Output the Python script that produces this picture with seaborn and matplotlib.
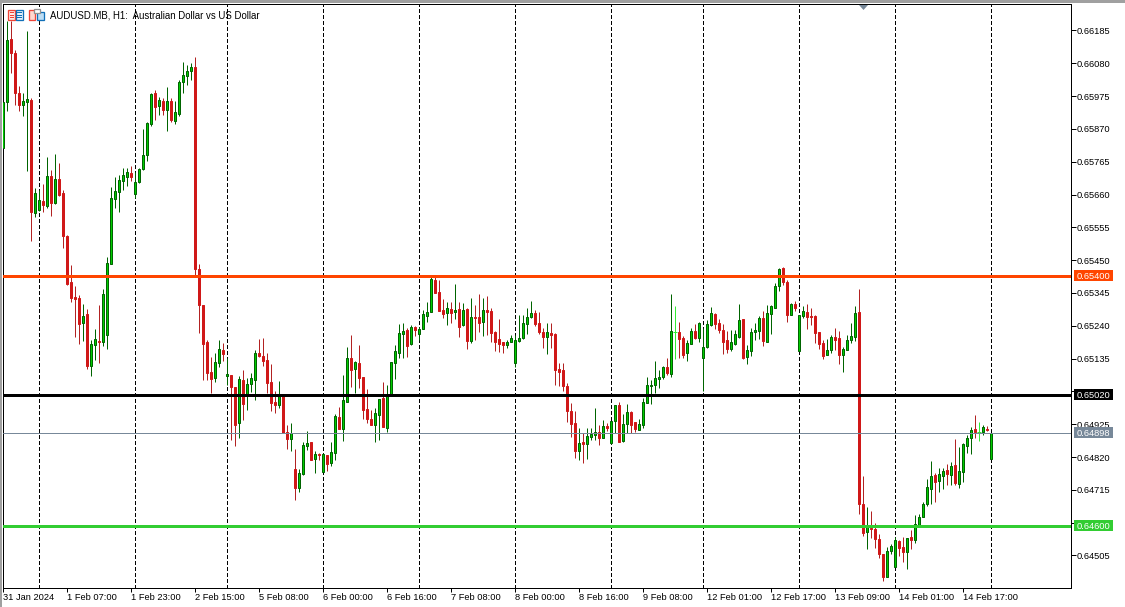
import numpy as np
import pandas as pd
import matplotlib
matplotlib.use("Agg")
import matplotlib.pyplot as plt
from matplotlib.patches import Rectangle, Polygon
from matplotlib.transforms import blended_transform_factory
import seaborn as sns

# Prices are in points (1e-5)
opens = [
65809,65957,66158,66113,65985,65947,65957,65963,65601,65611,
65640,65624,65720,65633,65710,65665,65528,65381,65333,65329,
65249,65278,65112,65179,65192,65189,65211,65438,65646,65669,
65704,65717,65729,65662,65701,65742,65787,65886,65985,65944,
65960,65931,65960,65896,65918,66021,66040,66056,66069,65422,
65307,65189,65093,65073,65121,65163,65080,65083,65045,64929,
65067,65019,65054,65067,65153,65144,65131,65061,64997,64987,
65019,64901,64878,64782,64721,64766,64856,64869,64814,64830,
64773,64827,64801,64833,64949,64910,64997,65137,65102,65121,
65077,64974,64942,64923,64955,65009,64913,65016,65121,65153,
65214,65227,65182,65237,65214,65230,65272,65285,65387,65349,
65291,65281,65294,65285,65294,65243,65294,65192,65269,65269,
65253,65291,65288,65221,65198,65189,65179,65189,65121,65192,
65201,65246,65269,65281,65249,65221,65205,65217,65214,65102,
65099,65048,64968,64929,64840,64869,64862,64885,64891,64901,
64881,64920,64865,64936,64987,64872,64926,64965,64933,64907,
64923,64993,65048,65051,65070,65077,65109,65086,65221,65221,
65201,65153,65182,65224,65201,65137,65173,65243,65278,65249,
65227,65195,65166,65182,65205,65262,65141,65160,65221,65224,
65265,65189,65278,65297,65368,65425,65381,65275,65310,65160,
65272,65285,65272,65272,65221,65185,65147,65163,65205,65201,
65147,65163,65195,65205,65285,64670,64581,64594,64590,64558,
64510,64437,64520,64469,64552,64533,64517,64565,64555,64600,
64629,64670,64718,64763,64744,64760,64779,64763,64795,64734,
64773,64856,64881,64910,64901,64901,64910,64814]
highs = [
65957,66216,66216,66123,66008,65985,66184,65969,65681,65675,
65694,65781,65739,65790,65761,65675,65531,65435,65368,65339,
65310,65294,65195,65230,65307,65358,65461,65685,65717,65723,
65745,65745,65752,65733,65745,65870,65893,65985,65995,65973,
65969,66005,65969,65960,66027,66085,66075,66081,66101,65438,
65307,65195,65141,65153,65195,65185,65137,65083,65045,65080,
65099,65073,65089,65163,65198,65201,65153,65118,65032,65064,
65019,64923,64929,64846,64782,64869,64904,64869,64840,64833,
64833,64827,64869,64958,64981,65083,65173,65211,65128,65179,
65077,65038,64971,64977,65006,65061,65051,65125,65179,65246,
65249,65233,65243,65240,65237,65291,65317,65397,65397,65387,
65326,65317,65317,65374,65317,65313,65297,65329,65307,65342,
65329,65336,65297,65224,65262,65189,65195,65211,65211,65275,
65275,65297,65320,65291,65285,65233,65249,65249,65217,65121,
65121,65057,64993,64968,64913,64897,64913,64913,64977,64923,
64939,64929,64936,64987,64997,64958,64990,64968,64933,64942,
65009,65077,65067,65128,65099,65112,65137,65342,65304,65253,
65208,65195,65233,65246,65253,65233,65259,65301,65281,65262,
65246,65224,65227,65227,65310,65262,65179,65233,65249,65272,
65288,65307,65307,65377,65425,65429,65387,65313,65320,65275,
65304,65310,65297,65275,65221,65195,65198,65211,65233,65224,
65173,65211,65249,65304,65358,64760,64661,64648,64609,64574,
64510,64533,64542,64565,64555,64565,64561,64587,64635,64638,
64677,64750,64808,64769,64785,64785,64798,64805,64878,64853,
64865,64891,64917,64955,64933,64923,64920,64898]
lows = [
65809,65928,66049,65947,65928,65912,65736,65512,65589,65608,
65605,65617,65592,65630,65656,65489,65371,65317,65205,65182,
65192,65102,65080,65131,65121,65176,65166,65438,65617,65605,
65675,65688,65704,65649,65697,65739,65768,65880,65899,65915,
65915,65864,65893,65886,65912,65985,66011,66027,65403,65217,
65067,65067,65025,65061,65109,65128,65051,64875,64856,64881,
64939,64971,65029,65003,65141,65112,65025,64968,64961,64977,
64897,64846,64840,64683,64709,64763,64843,64811,64769,64811,
64773,64776,64792,64811,64910,64872,64997,65045,65025,65041,
64942,64929,64923,64869,64875,64917,64901,65016,65070,65137,
65137,65141,65179,65208,65195,65230,65253,65285,65345,65288,
65265,65243,65249,65262,65205,65240,65166,65185,65195,65221,
65208,65211,65189,65160,65157,65153,65169,65189,65109,65189,
65198,65214,65265,65240,65214,65169,65150,65169,65051,65048,
65032,64933,64885,64817,64811,64801,64814,64875,64875,64859,
64881,64904,64862,64897,64869,64869,64897,64897,64901,64907,
64913,64993,64990,65025,65041,65070,65083,65077,65134,65137,
65137,65128,65182,65198,65189,65032,65169,65240,65230,65217,
65150,65153,65160,65179,65201,65134,65118,65144,65195,65198,
65176,65189,65214,65297,65352,65371,65253,65275,65288,65160,
65265,65230,65243,65185,65166,65134,65147,65153,65163,65118,
65093,65163,65185,65192,64638,64568,64526,64561,64529,64497,
64424,64437,64510,64469,64504,64485,64462,64526,64545,64600,
64629,64664,64670,64677,64709,64718,64731,64731,64731,64721,
64741,64833,64830,64881,64872,64891,64904,64814]
closes = [
65957,66155,66113,65985,65947,65960,65966,65605,65665,65643,
65627,65720,65633,65710,65659,65528,65374,65329,65326,65246,
65272,65112,65182,65198,65189,65342,65441,65649,65672,65707,
65723,65733,65717,65701,65742,65787,65889,65982,65941,65963,
65931,65960,65899,65925,66021,66043,66056,66069,65422,65307,
65182,65089,65070,65125,65166,65150,65086,65045,64923,65070,
64990,65054,65073,65153,65144,65128,65057,64993,64987,65019,
64897,64878,64897,64721,64769,64859,64865,64811,64830,64827,
64830,64798,64837,64952,64910,65003,65137,65099,65125,65073,
64971,64942,64923,64961,65006,64917,65016,65125,65160,65217,
65224,65176,65237,65227,65230,65278,65285,65390,65345,65288,
65278,65297,65281,65291,65237,65291,65192,65269,65265,65249,
65291,65285,65217,65189,65182,65179,65189,65201,65195,65201,
65249,65269,65281,65246,65221,65205,65221,65211,65099,65093,
65048,64968,64926,64840,64865,64862,64888,64894,64901,64881,
64920,64913,64936,64987,64869,64926,64965,64923,64910,64926,
64997,65051,65051,65073,65077,65109,65089,65224,65221,65198,
65147,65185,65224,65201,65249,65173,65246,65281,65246,65227,
65189,65166,65189,65214,65259,65137,65163,65221,65227,65265,
65192,65281,65304,65368,65422,65381,65275,65310,65297,65275,
65288,65269,65269,65217,65182,65144,65163,65205,65195,65147,
65166,65195,65208,65281,64670,64577,64597,64590,64558,64510,
64437,64520,64536,64555,64529,64517,64561,64555,64606,64629,
64670,64725,64760,64741,64766,64776,64766,64792,64737,64776,
64862,64881,64907,64901,64901,64917,64907,64898]

time_labels = ["31 Jan 2024", "1 Feb 07:00", "1 Feb 23:00", "2 Feb 15:00",
               "5 Feb 08:00", "6 Feb 00:00", "6 Feb 16:00", "7 Feb 08:00",
               "8 Feb 00:00", "8 Feb 16:00", "9 Feb 08:00", "12 Feb 01:00",
               "12 Feb 17:00", "13 Feb 09:00", "14 Feb 01:00", "14 Feb 17:00"]
price_ticks = [0.66185, 0.66080, 0.65975, 0.65870, 0.65765, 0.65660, 0.65555,
               0.65450, 0.65345, 0.65240, 0.65135, 0.65030, 0.64925, 0.64820,
               0.64715, 0.64610, 0.64505]
covered_ticks = [0.65030, 0.64610]  # hidden behind price tags in the reference
period_bars = [9, 33, 56, 80, 104, 128, 152, 175, 199, 223, 247]
level_prices = [0.65400, 0.65020, 0.64600]
level_colors = ["#FF4500", "#000000", "#32CD32"]
last_price = 0.64898
title_text = "AUDUSD.MB, H1:  Australian Dollar vs US Dollar"

W, H = 1125, 607
PX = 0.72
FONT = "Liberation Sans"

sns.set_theme(style="white")
plt.rcParams["font.family"] = [FONT, "DejaVu Sans"]

df = pd.DataFrame({"bar": np.arange(len(opens)), "open": opens, "high": highs,
                   "low": lows, "close": closes})
for c in ["open", "high", "low", "close"]:
    df[c] = df[c] / 1e5
df["top"] = df[["open", "close"]].max(axis=1)
df["bottom"] = df[["open", "close"]].min(axis=1)
df["size"] = df["top"] - df["bottom"]

fig = plt.figure(figsize=(W / 100, H / 100), dpi=100, facecolor="white")
L, R, T, B = 2.9, 1070.9, 3.9, 587.9
ax = fig.add_axes([L / W, 1 - B / H, (R - L) / W, (B - T) / H])
PX_PER_PRICE = 31250.0
Y0 = 275.8


def up_down(sub, fill, edge, wick):
    ax.vlines(sub["bar"], sub["low"], sub["high"], color=wick, lw=PX, zorder=2)
    sns.barplot(data=sub, x="bar", y="size", native_scale=True, width=0.5,
                bottom=sub["bottom"].to_numpy(), color=fill, saturation=1,
                edgecolor=edge, linewidth=PX, errorbar=None, zorder=3, ax=ax)


ax.vlines(period_bars, 0, 1, transform=ax.get_xaxis_transform(), color="black",
          lw=PX, linestyles=[(0, (3, 2.5))], zorder=1, antialiased=False)

up_down(df[df["close"] > df["open"]], "#00CC00", "#006400", "#006400")
up_down(df[df["close"] < df["open"]], "#D01818", "#D01818", "#B22222")
flat = df[df["close"] == df["open"]]
ax.vlines(flat["bar"], flat["low"], flat["high"], color="#32EE32", lw=PX, zorder=2)
ax.hlines(flat["close"], flat["bar"] - 0.5, flat["bar"] + 0.5, color="#32EE32", lw=PX, zorder=3)

for price, col in zip(level_prices, level_colors):
    ax.axhline(price, color=col, lw=3 * PX, zorder=5)
ax.axhline(last_price, color="#778899", lw=PX, zorder=4)

ax.set_xlim(0, (R - L) / 4)
ax.set_ylim(level_prices[0] - (B - Y0) / PX_PER_PRICE,
            level_prices[0] + (Y0 - T) / PX_PER_PRICE)
ax.set_xlabel("")
ax.set_ylabel("")

ax.set_xticks(np.arange(len(time_labels)) * 16)
ax.set_xticklabels(time_labels, ha="left", fontsize=6.7, color="black")
ax.yaxis.tick_right()
ax.set_yticks(price_ticks)
ax.set_yticklabels(["" if p in covered_ticks else f"{p:.5f}" for p in price_ticks],
                   fontsize=6.7, color="black")
ax.tick_params(axis="x", direction="out", length=4 * PX, width=PX, pad=0.8, color="black", bottom=True)
ax.tick_params(axis="y", direction="out", length=5 * PX, width=PX, pad=0.6, color="black", right=True)
for s in ax.spines.values():
    s.set_visible(True)
    s.set_linewidth(PX)
    s.set_color("black")

# price tags on the right scale
trans = blended_transform_factory(fig.transFigure, ax.transData)
tags = list(zip(level_prices + [last_price], level_colors + ["#778899"]))
for price, col in tags:
    box_h = 11 / PX_PER_PRICE
    ax.add_patch(Rectangle((1074 / W, price - box_h / 2), 39 / W, box_h, transform=trans,
                           facecolor=col, edgecolor="none", clip_on=False, zorder=10))
    ax.text(1077 / W, price, f"{price:.5f}", transform=trans, color="white", fontsize=6.7,
            va="center_baseline", ha="left", clip_on=False, zorder=11)


def fig_rect(x0, y0, x1, y1, **kw):
    fig.add_artist(Rectangle((x0 / W, 1 - y1 / H), (x1 - x0) / W, (y1 - y0) / H,
                             transform=fig.transFigure, **kw))


# window frame
fig_rect(0, 0, W, 2.5, facecolor="#A0A0A0", edgecolor="none")
fig_rect(0, 0, 2, H, facecolor="#A0A0A0", edgecolor="none")
# shift marker
fig.add_artist(Polygon([(859 / W, 1 - 5 / H), (868 / W, 1 - 5 / H), (863.5 / W, 1 - 10 / H)],
                       transform=fig.transFigure, facecolor="#778899", edgecolor="none"))

# toolbar icons
RED, BLUE = "#F04438", "#1070B8"
ILW = 1.3 * PX
fig_rect(8, 10, 15, 20, facecolor="#FFE8E4", edgecolor=RED, lw=ILW)
fig_rect(15.5, 10, 22.5, 20, facecolor="#E4F0FA", edgecolor=BLUE, lw=ILW)
for yy in (12.8, 15, 17.2):
    fig_rect(9.5, yy - 0.5, 14, yy + 0.5, facecolor=RED, edgecolor="none")
    fig_rect(17, yy - 0.5, 21.5, yy + 0.5, facecolor=BLUE, edgecolor="none")
fig_rect(29, 10, 35, 20, facecolor="#FFD8D0", edgecolor=RED, lw=ILW)
fig_rect(37, 11.5, 44, 20, facecolor="#BCDDF4", edgecolor=BLUE, lw=ILW)
fig_rect(33.5, 9.5, 39.5, 12.5, facecolor="white", edgecolor="#909090", lw=ILW)

fig.text(50 / W, 1 - 16 / H, title_text, fontsize=6.9, color="black", va="center", ha="left", zorder=20)

fig.savefig("out.png", dpi=100)
